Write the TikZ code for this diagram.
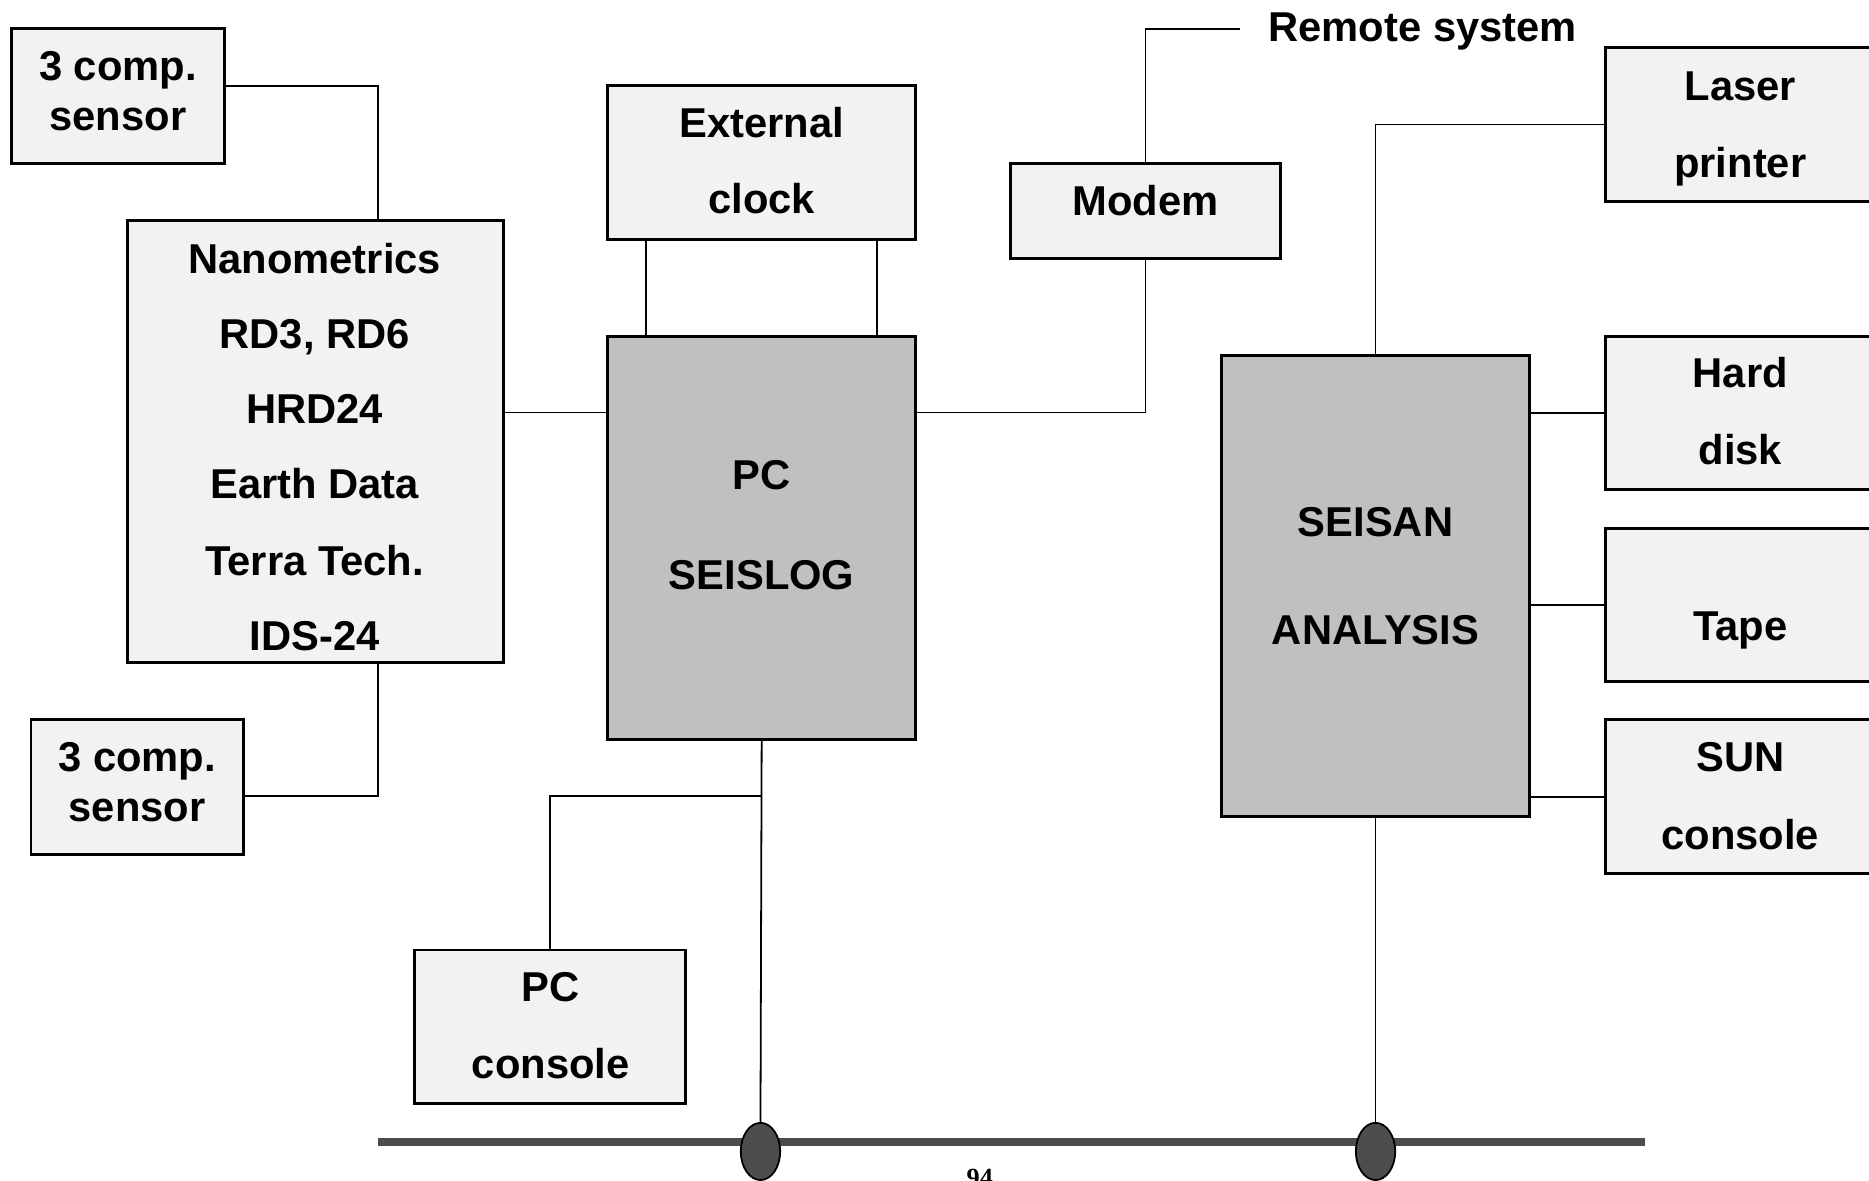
\documentclass[tikz,border=0pt]{standalone}
\usepackage{fontspec}
\setmainfont{Liberation Sans}
\newfontfamily\pagenumfont{Liberation Serif}
\usetikzlibrary{shapes.geometric}
\definecolor{boxfill}{HTML}{F2F2F2}
\definecolor{mainfill}{HTML}{C0C0C0}
\definecolor{busgray}{HTML}{4D4D4D}
\tikzset{
  dev/.style={draw=black, line width=2.5pt, fill=boxfill, inner sep=0pt},
  core/.style={draw=black, line width=2.5pt, fill=mainfill, inner sep=0pt},
  wire/.style={draw=black, line width=1.5pt},
  bus/.style={draw=busgray, line width=7pt},
  tap/.style={ellipse, draw=black, line width=1.5pt, fill=busgray, minimum width=33pt, minimum height=48pt, inner sep=0pt},
  txt/.style={font=\bfseries\fontsize{35}{42}\selectfont, inner sep=0pt, text height=25pt, text depth=0pt},
}
\newcommand{\boxat}[6]{% name, style, x1, y1, x2, y2
  \node[#2, minimum width={(#5-#3)*1pt}, minimum height={(#6-#4)*1pt}] (#1) at ({(#3+#5)/2},{(#4+#6)/2}) {};}
\begin{document}
\begin{tikzpicture}[x=1pt,y=-1pt]
\useasboundingbox (0,0) rectangle (1568,990);
% boxes
\boxat{sensA}{dev}{10}{24}{188}{137}
\boxat{nano}{dev}{107}{185}{422}{556}
\boxat{sensB}{dev}{26}{604}{204}{717}
\boxat{clock}{dev}{510}{72}{768}{201}
\boxat{pcs}{core}{510}{282}{768}{620}
\boxat{modem}{dev}{848}{137}{1074}{217}
\boxat{pcc}{dev}{348}{797}{575}{926}
\boxat{seisan}{core}{1025}{298}{1283}{685}
\boxat{laser}{dev}{1347}{40}{1574}{169}
\boxat{hdisk}{dev}{1347}{282}{1574}{411}
\boxat{tape}{dev}{1347}{443}{1574}{572}
\boxat{sun}{dev}{1347}{604}{1574}{733}
% bus
\coordinate (busL) at (317,958);
\coordinate (busR) at (1380,958);
\draw[bus] (busL) -- (busR);
\node[tap] (tapA) at (638,966) {};
\node[tap] (tapB) at (1154,966) {};
% connectors
\coordinate (remote) at (1040,24);
\draw[wire] (sensA.east |- 0,72) -- (317,72) -- (nano.north -| 317,0);
\draw[wire] (nano.south -| 317,0) -- (317,668) -- (sensB.east |- 0,668);
\draw[wire] (nano.east |- 0,346) -- (pcs.west |- 0,346);
\draw[wire] (clock.south -| 542,0) -- (pcs.north -| 542,0);
\draw[wire] (clock.south -| 736,0) -- (pcs.north -| 736,0);
\draw[wire] (modem.north) -- (modem.north |- remote) -- (remote);
\draw[wire] (modem.south) -- (modem.south |- 0,346) -- (pcs.east |- 0,346);
\draw[wire] (pcs.south) -- (tapA.north);
\draw[wire] (pcs.south |- 0,668) -- (pcc.north |- 0,668) -- (pcc.north);
\draw[wire] (seisan.south) -- (tapB.north);
\draw[wire] (seisan.north) -- (seisan.north |- laser.west) -- (laser.west);
\draw[wire] (seisan.east |- hdisk.west) -- (hdisk.west);
\draw[wire] (seisan.east |- tape.west) -- (tape.west);
\draw[wire] (seisan.east |- sun.west) -- (sun.west);
% texts
\node[txt] (tsA1) at (99,55) {3 comp.};
\node[txt] (tsA2) at (99,97) {sensor};
\node[txt] (tn1) at (264,217) {Nanometrics};
\node[txt] (tn2) at (264,280) {RD3, RD6};
\node[txt] (tn3) at (264,343) {HRD24};
\node[txt] (tn4) at (264,406) {Earth Data};
\node[txt] (tn5) at (264,470) {Terra Tech.};
\node[txt] (tn6) at (264,533) {IDS-24};
\node[txt] (tsB1) at (115,635) {3 comp.};
\node[txt] (tsB2) at (115,677) {sensor};
\node[txt] (tc1) at (639,103) {External};
\node[txt] (tc2) at (639,167) {clock};
\node[txt] (tp1) at (639,398) {PC};
\node[txt] (tp2) at (639,482) {SEISLOG};
\node[txt] (tm) at (961,168) {Modem};
\node[txt, anchor=west] (trs) at (1064,22) {Remote system};
\node[txt] (tq1) at (462,828) {PC};
\node[txt] (tq2) at (462,892) {console};
\node[txt] (ts1) at (1154,438) {SEISAN};
\node[txt] (ts2) at (1154,528) {ANALYSIS};
\node[txt] (tl1) at (1460,72) {Laser};
\node[txt] (tl2) at (1460,136) {printer};
\node[txt] (th1) at (1460,313) {Hard};
\node[txt] (th2) at (1460,377) {disk};
\node[txt] (tt) at (1460,525) {Tape};
\node[txt] (tu1) at (1460,635) {SUN};
\node[txt] (tu2) at (1460,700) {console};
\node[font=\pagenumfont\bfseries\fontsize{22}{24}\selectfont, inner sep=0pt, anchor=north] (pnum) at (822,981) {94};
\end{tikzpicture}
\end{document}
